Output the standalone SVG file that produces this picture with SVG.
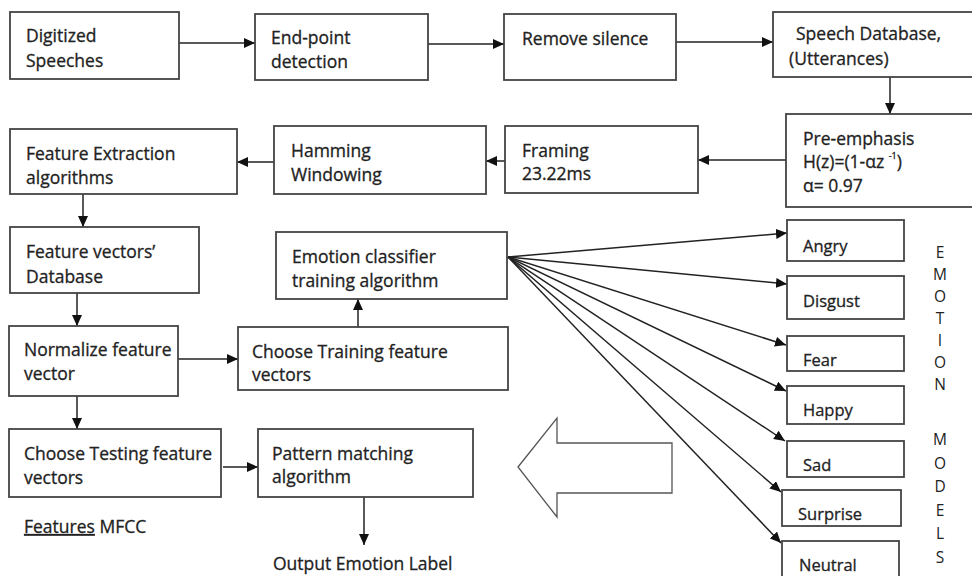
<svg xmlns="http://www.w3.org/2000/svg" width="972" height="576" viewBox="0 0 972 576">
<defs>
<marker id="ah" markerUnits="userSpaceOnUse" markerWidth="12" markerHeight="10" refX="11" refY="5" orient="auto">
<path d="M0,0 L11,5 L0,10 Z" fill="#111"/>
</marker>
<style>
.b{fill:#fff;stroke:#444;stroke-width:1.8}
.t{font-family:"Open Sans","Liberation Sans",sans-serif;font-size:17.5px;fill:#222;stroke:#222;stroke-width:0.3}
.e{font-family:"Open Sans","Liberation Sans",sans-serif;font-size:16.5px;fill:#222;stroke:#222;stroke-width:0.3}
.l{font-family:"Open Sans","Liberation Sans",sans-serif;font-size:15.5px;fill:#222;text-anchor:middle}
.c{fill:none;stroke:#222;stroke-width:1.5;marker-end:url(#ah)}
</style>
</defs>
<rect width="972" height="576" fill="#fff"/>
<g id="connectors">
<line class="c" x1="179" y1="43" x2="255" y2="43"/>
<line class="c" x1="428" y1="44" x2="504" y2="44"/>
<line class="c" x1="676" y1="42" x2="773" y2="42"/>
<line class="c" x1="890" y1="77" x2="890" y2="114"/>
<line class="c" x1="786" y1="160" x2="698" y2="160"/>
<line class="c" x1="505" y1="161" x2="486" y2="161"/>
<line class="c" x1="274" y1="162" x2="237" y2="162"/>
<line class="c" x1="83" y1="194" x2="83" y2="227"/>
<line class="c" x1="77" y1="293" x2="77" y2="326"/>
<line class="c" x1="178" y1="359" x2="238" y2="359"/>
<line class="c" x1="358" y1="327" x2="358" y2="299"/>
<line class="c" x1="77" y1="396" x2="77" y2="429"/>
<line class="c" x1="223" y1="467" x2="258" y2="467"/>
<line class="c" x1="364" y1="497" x2="364" y2="545"/>
<line class="c" x1="508" y1="257" x2="787" y2="233"/>
<line class="c" x1="508" y1="257" x2="787" y2="284"/>
<line class="c" x1="508" y1="257" x2="786" y2="345"/>
<line class="c" x1="508" y1="257" x2="786" y2="391"/>
<line class="c" x1="508" y1="257" x2="785" y2="441"/>
<line class="c" x1="508" y1="257" x2="781" y2="492"/>
<line class="c" x1="508" y1="257" x2="781" y2="543"/>
</g>
<g id="n-digitized"><rect class="b" x="10" y="12" width="169" height="67"/><text class="t" x="26" y="42">Digitized</text><text class="t" x="26" y="67">Speeches</text></g>
<g id="n-endpoint"><rect class="b" x="255" y="14" width="173" height="66"/><text class="t" x="271" y="44">End-point</text><text class="t" x="271" y="68">detection</text></g>
<g id="n-remove"><rect class="b" x="504" y="14" width="172" height="66"/><text class="t" x="522" y="45">Remove silence</text></g>
<g id="n-speechdb"><rect class="b" x="773" y="12" width="210" height="65"/><text class="t" x="796" y="40">Speech Database,</text><text class="t" x="789" y="65">(Utterances)</text></g>
<g id="n-preemph"><rect class="b" x="786" y="114" width="200" height="93"/><text class="t" x="803" y="145">Pre-emphasis</text><text class="t" x="803" y="168">H(z)=(1-αz <tspan font-size="9" dy="-9">-1</tspan><tspan dy="9">)</tspan></text><text class="t" x="803" y="192">α= 0.97</text></g>
<g id="n-framing"><rect class="b" x="505" y="126" width="193" height="67"/><text class="t" x="522" y="157">Framing</text><text class="t" x="522" y="180">23.22ms</text></g>
<g id="n-hamming"><rect class="b" x="274" y="126" width="212" height="68"/><text class="t" x="291" y="157">Hamming</text><text class="t" x="291" y="181">Windowing</text></g>
<g id="n-featext"><rect class="b" x="10" y="129" width="227" height="65"/><text class="t" x="26" y="160">Feature Extraction</text><text class="t" x="26" y="184">algorithms</text></g>
<g id="n-featdb"><rect class="b" x="10" y="227" width="189" height="66"/><text class="t" x="26" y="258">Feature vectors’</text><text class="t" x="26" y="283">Database</text></g>
<g id="n-classifier"><rect class="b" x="276" y="232" width="231" height="67"/><text class="t" x="292" y="263">Emotion classifier</text><text class="t" x="292" y="287">training algorithm</text></g>
<g id="n-normalize"><rect class="b" x="9" y="326" width="169" height="70"/><text class="t" x="24" y="356">Normalize feature</text><text class="t" x="24" y="380">vector</text></g>
<g id="n-training"><rect class="b" x="238" y="327" width="270" height="63"/><text class="t" x="252" y="358">Choose Training feature</text><text class="t" x="252" y="381">vectors</text></g>
<g id="n-testing"><rect class="b" x="9" y="429" width="212" height="68"/><text class="t" x="24" y="460">Choose Testing feature</text><text class="t" x="24" y="484">vectors</text></g>
<g id="n-pattern"><rect class="b" x="258" y="429" width="215" height="68"/><text class="t" x="272" y="460">Pattern matching</text><text class="t" x="272" y="483">algorithm</text></g>
<g id="n-blockarrow"><polygon points="518,467 557,418 557,443 672,443 672,493 557,493 557,517" fill="#fff" stroke="#555" stroke-width="1.3"/></g>
<g id="n-features"><text class="t" x="24" y="533"><tspan text-decoration="underline">Features</tspan> MFCC</text></g>
<g id="n-output"><text class="t" x="273" y="570">Output Emotion Label</text></g>
<g id="n-angry"><rect class="b" x="787" y="220" width="117" height="41"/><text class="e" x="803" y="252">Angry</text></g>
<g id="n-disgust"><rect class="b" x="787" y="276" width="117" height="43"/><text class="e" x="803" y="307">Disgust</text></g>
<g id="n-fear"><rect class="b" x="787" y="336" width="117" height="35"/><text class="e" x="803" y="366">Fear</text></g>
<g id="n-happy"><rect class="b" x="787" y="386" width="117" height="38"/><text class="e" x="803" y="416">Happy</text></g>
<g id="n-sad"><rect class="b" x="787" y="441" width="117" height="36"/><text class="e" x="803" y="471">Sad</text></g>
<g id="n-surprise"><rect class="b" x="782" y="490" width="119" height="36"/><text class="e" x="798" y="520">Surprise</text></g>
<g id="n-neutral"><rect class="b" x="782" y="541" width="117" height="45"/><text class="e" x="799" y="571">Neutral</text></g>
<g id="n-models">
<text class="l" x="940" y="258">E</text><text class="l" x="940" y="280">M</text><text class="l" x="940" y="302">O</text><text class="l" x="940" y="324">T</text><text class="l" x="940" y="346">I</text><text class="l" x="940" y="368">O</text><text class="l" x="940" y="390">N</text>
<text class="l" x="940" y="445">M</text><text class="l" x="940" y="469">O</text><text class="l" x="940" y="492">D</text><text class="l" x="940" y="516">E</text><text class="l" x="940" y="539">L</text><text class="l" x="940" y="563">S</text>
</g>
</svg>
